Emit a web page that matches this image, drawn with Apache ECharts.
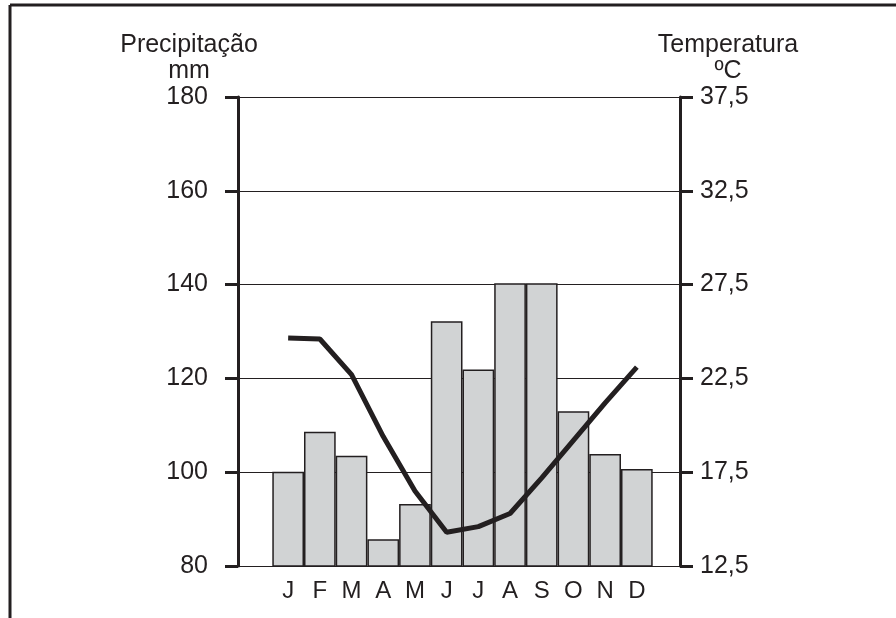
<!DOCTYPE html>
<html>
<head>
<meta charset="utf-8">
<script src="https://cdn.jsdelivr.net/npm/echarts@6/dist/echarts.min.js"></script>
<style>
html,body{margin:0;padding:0;background:#fff;}
#chart{width:896px;height:618px;}
</style>
</head>
<body>
<div id="chart"></div>
<script>
const months = ['J','F','M','A','M','J','J','A','S','O','N','D'];
const precipitation = [100.1, 108.6, 103.5, 85.7, 93.2, 132.2, 121.9, 140.3, 140.3, 113.0, 103.9, 100.7];
const temperature = [24.65, 24.6, 22.7, 19.4, 16.5, 14.3, 14.6, 15.3, 17.2, 19.2, 21.2, 23.1];
const precipAxis = {min: 80, max: 180, interval: 20};
const tempAxis = {min: 12.5, max: 37.5, interval: 5};
const titles = {left: ['Precipitação', 'mm'], right: ['Temperatura', 'ºC']};

const ink = '#231f20';
const font = 'Liberation Sans, Arial, Helvetica, sans-serif';
const chart = echarts.init(document.getElementById('chart'), null, {renderer: 'canvas'});

const gridTop = 97, gridBottom = 52;
chart.setOption({
  backgroundColor: '#ffffff',
  animation: false,
  grid: [
    {left: 238, right: 216, top: gridTop, bottom: gridBottom},
    {left: 272.3, right: 243.3, top: gridTop, bottom: gridBottom}
  ],
  xAxis: [
    {gridIndex: 0, type: 'value', show: false, min: 0, max: 1},
    {gridIndex: 1, type: 'category', data: months, boundaryGap: true,
     axisLine: {show: false}, axisTick: {show: false},
     axisLabel: {color: ink, fontSize: 24, fontFamily: font, margin: 13}}
  ],
  yAxis: [
    {gridIndex: 0, type: 'value', position: 'left', min: precipAxis.min, max: precipAxis.max, interval: precipAxis.interval,
     axisLine: {show: true, lineStyle: {color: ink, width: 3}},
     axisTick: {show: true, length: 13, lineStyle: {color: ink, width: 3}},
     axisLabel: {color: ink, fontSize: 25, fontFamily: font, margin: 30},
     splitLine: {show: true, lineStyle: {color: ink, width: 1.2}}},
    {gridIndex: 0, type: 'value', position: 'right', min: 0, max: tempAxis.max - tempAxis.min, interval: tempAxis.interval,
     axisLine: {show: true, lineStyle: {color: ink, width: 3}},
     axisTick: {show: true, length: 13, lineStyle: {color: ink, width: 3}},
     axisLabel: {color: ink, fontSize: 25, fontFamily: font, margin: 20,
       formatter: v => (v + tempAxis.min).toFixed(1).replace('.', ',')},
     splitLine: {show: false}},
    {gridIndex: 1, type: 'value', show: false, min: precipAxis.min, max: precipAxis.max},
    {gridIndex: 1, type: 'value', show: false, min: tempAxis.min, max: tempAxis.max}
  ],
  graphic: [
    {type: 'line', shape: {x1: 10, y1: 5, x2: 896, y2: 5}, style: {stroke: ink, lineWidth: 3}},
    {type: 'line', shape: {x1: 10, y1: 5, x2: 10, y2: 618}, style: {stroke: ink, lineWidth: 3}},
    {type: 'text', x: 189, y: 45, style: {text: titles.left[0], fill: ink, font: '25px ' + font, textAlign: 'center', textVerticalAlign: 'middle'}},
    {type: 'text', x: 189, y: 71, style: {text: titles.left[1], fill: ink, font: '25px ' + font, textAlign: 'center', textVerticalAlign: 'middle'}},
    {type: 'text', x: 728, y: 45, style: {text: titles.right[0], fill: ink, font: '25px ' + font, textAlign: 'center', textVerticalAlign: 'middle'}},
    {type: 'text', x: 728, y: 71, style: {text: titles.right[1], fill: ink, font: '25px ' + font, textAlign: 'center', textVerticalAlign: 'middle'}}
  ],
  series: [
    {type: 'bar', xAxisIndex: 1, yAxisIndex: 2, data: precipitation, barWidth: '100%',
     itemStyle: {color: '#d1d3d4', borderColor: ink, borderWidth: 1.5}, z: 2},
    {type: 'line', xAxisIndex: 1, yAxisIndex: 3, data: temperature, symbol: 'none',
     lineStyle: {color: ink, width: 5}, z: 3}
  ]
});
</script>
</body>
</html>
